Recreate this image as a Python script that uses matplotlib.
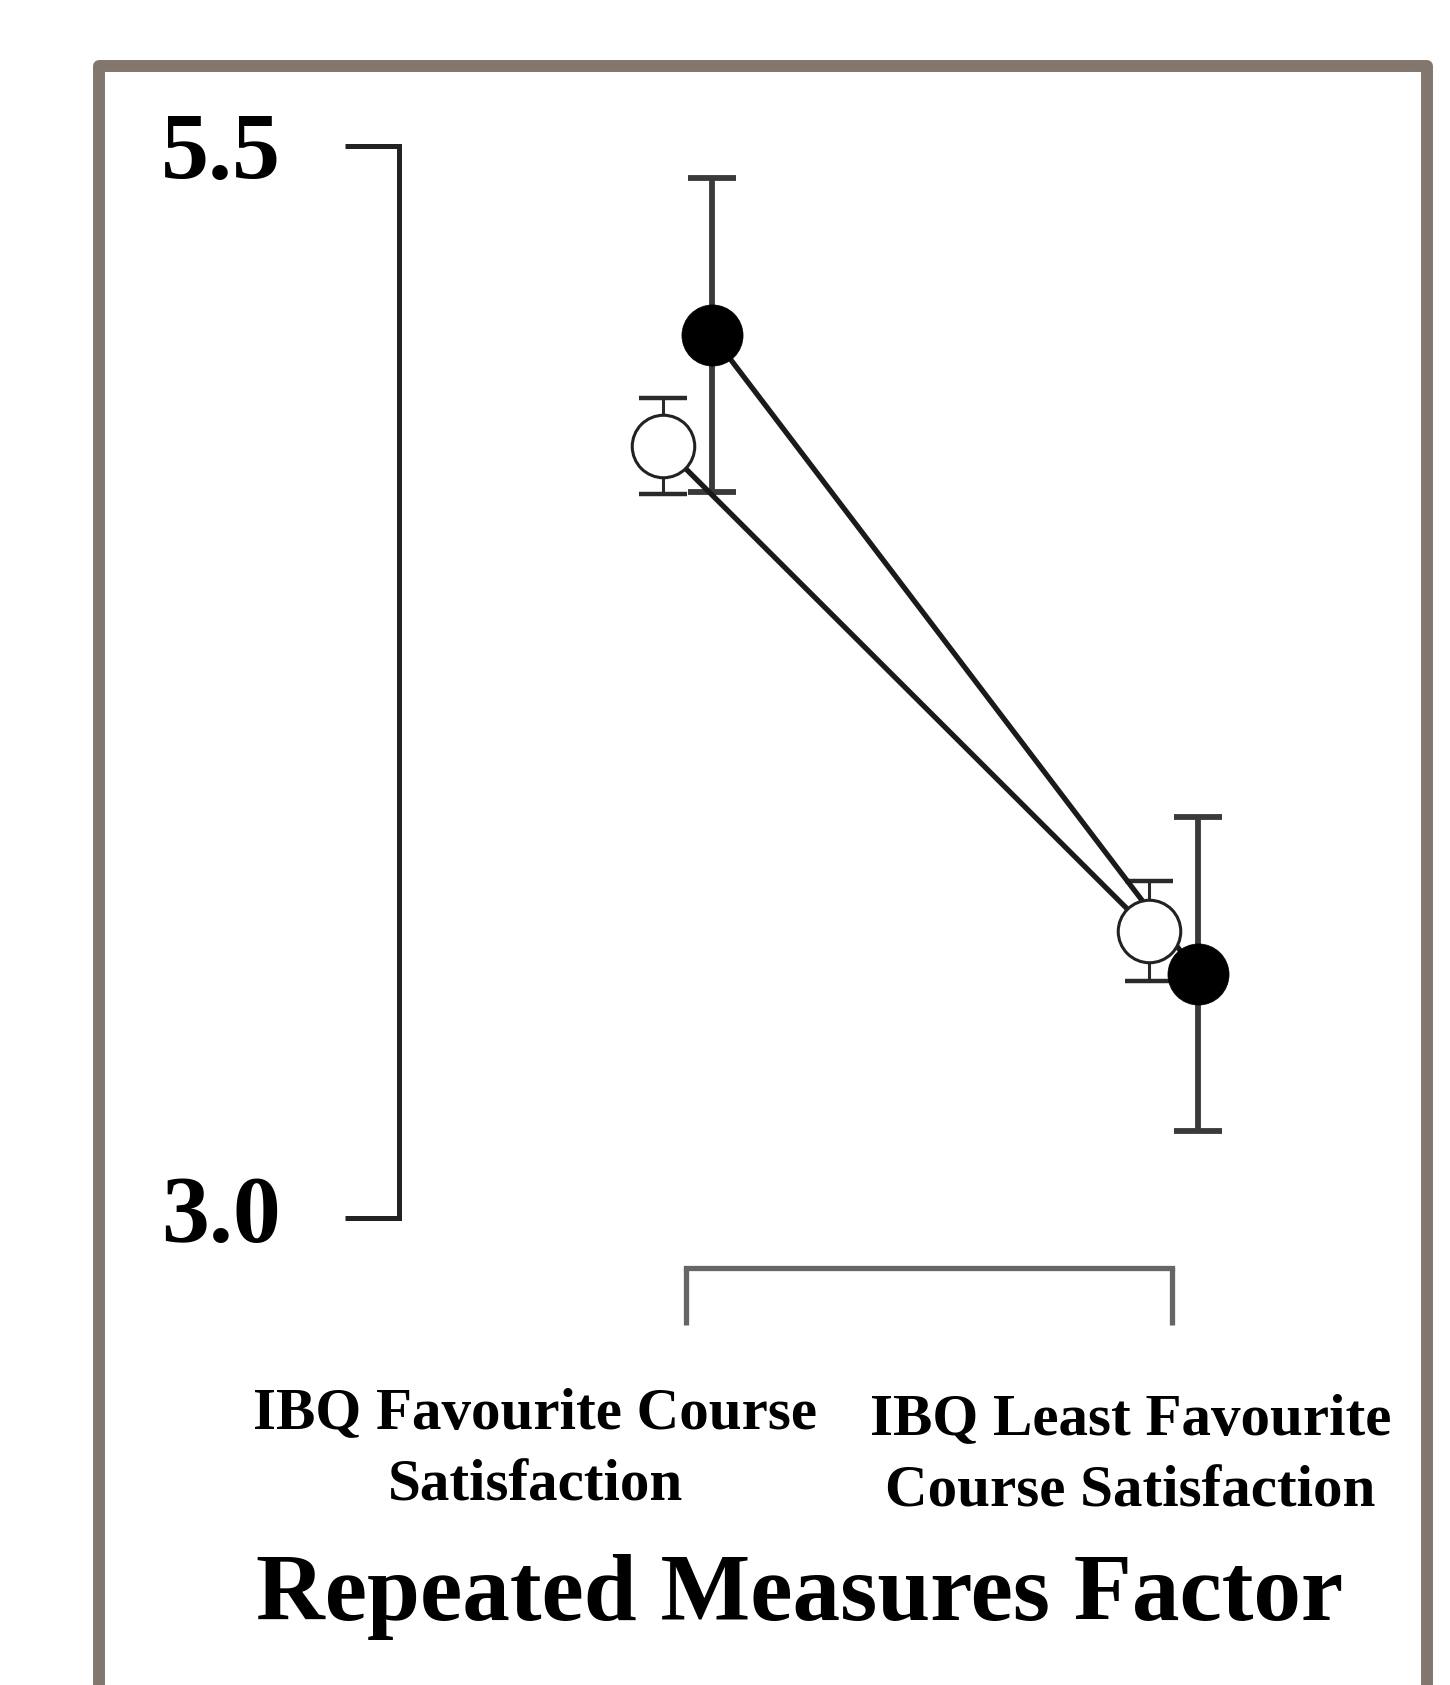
import matplotlib
matplotlib.use("Agg")
import matplotlib.pyplot as plt
from matplotlib.patches import Rectangle
from matplotlib.transforms import blended_transform_factory, offset_copy

# --- data -------------------------------------------------------------
conditions = ["IBQ Favourite Course\nSatisfaction",
              "IBQ Least Favourite\nCourse Satisfaction"]
filled_means = [5.06, 3.57]
filled_err = [0.366, 0.366]
open_means = [4.80, 3.67]
open_err = [0.112, 0.117]
y_ticks = [3.0, 5.5]
axis_title = "Repeated Measures Factor"

# --- layout -----------------------------------------------------------
W, H, DPI = 1450, 1685, 100
SERIF = "Liberation Serif"

fig = plt.figure(figsize=(W / DPI, H / DPI), dpi=DPI)
fig.patch.set_facecolor("white")


def px_box(x0, y0, x1, y1):
    return [x0 / W, 1 - y1 / H, (x1 - x0) / W, (y1 - y0) / H]


ax = fig.add_axes(px_box(399, 146, 1300, 1218))
ax.set_facecolor("none")

xpos = [0, 1]
open_x = [x - 0.047 for x in xpos]
filled_x = [x + 0.053 for x in xpos]

# open-circle series
ax.plot(open_x, open_means, color="#1a1a1a", lw=3.8, zorder=3.5,
        solid_capstyle="butt")
ax.errorbar(open_x, open_means, yerr=open_err, fmt="none", ecolor="#2a2a2a",
            elinewidth=2.2, capsize=17, capthick=3.2, zorder=3)
ax.plot(open_x, open_means, "o", ms=45, mfc="white", mec="#222222",
        mew=2.2, zorder=4)

# filled-circle series
ax.plot(filled_x, filled_means, color="#1a1a1a", lw=3.8, zorder=3.5,
        solid_capstyle="butt")
ax.errorbar(filled_x, filled_means, yerr=filled_err, fmt="none",
            ecolor="#3a3a3a", elinewidth=4.2, capsize=17, capthick=4.2,
            zorder=3)
ax.plot(filled_x, filled_means, "o", ms=44, mfc="black", mec="black",
        mew=0.5, zorder=5)

ax.set_ylim(3.0, 5.5)
ax.set_xlim(-0.5905, 1.2634)

# axes styling
for side in ("top", "right"):
    ax.spines[side].set_visible(False)
ax.spines["left"].set_linewidth(3.6)
ax.spines["left"].set_color("#222222")
ax.spines["bottom"].set_position(("outward", 36))
ax.spines["bottom"].set_bounds(0, 1)
ax.spines["bottom"].set_linewidth(3.8)
ax.spines["bottom"].set_color("#666666")

ax.set_yticks(y_ticks)
ax.set_yticklabels([f"{v:.1f}" for v in y_ticks],
                   fontfamily=SERIF, fontweight="bold", fontsize=69)
ax.tick_params(axis="y", direction="out", length=39, width=3.6,
               color="#222222", pad=46)
# the lower value label sits a little above its tick
low_label = ax.get_yticklabels()[0]
low_label.set_transform(offset_copy(low_label.get_transform(), fig=fig,
                                    x=0, y=9, units="dots"))

ax.set_xticks(xpos)
ax.tick_params(axis="x", direction="out", length=41, width=3.8,
               color="#666666", labelbottom=False)

# condition labels beneath the bracket (baseline of the last line)
label_dx = [-0.31, -0.086]
label_base_px = [1500, 1506]
trans = blended_transform_factory(ax.transData, fig.transFigure)
for x, dx, ybase, text in zip(xpos, label_dx, label_base_px, conditions):
    ax.text(x + dx, 1 - ybase / H, text, transform=trans,
            ha="center", va="baseline", multialignment="center",
            fontfamily=SERIF, fontweight="bold", fontsize=42.5,
            linespacing=1.43, clip_on=False)

fig.text(800 / W, 1 - 1620 / H, axis_title, ha="center", va="baseline",
         fontfamily=SERIF, fontweight="bold", fontsize=68.5)

# surrounding frame
frame = Rectangle((99 / W, 1 - 1740 / H), (1427 - 99) / W, (1740 - 66) / H,
                  transform=fig.transFigure, fill=False,
                  edgecolor="#82766d", linewidth=8.6, joinstyle="round",
                  clip_on=False)
fig.add_artist(frame)

fig.savefig("out.png", dpi=DPI, facecolor="white")
